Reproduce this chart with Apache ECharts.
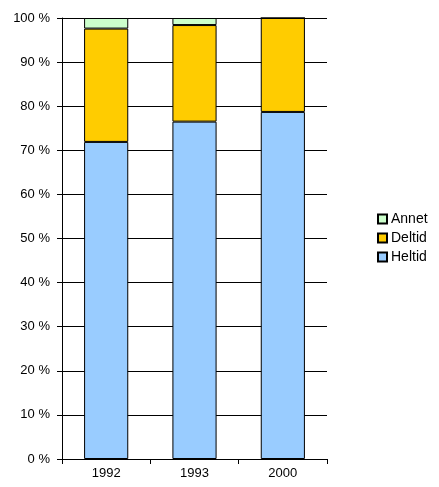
<!DOCTYPE html>
<html>
<head>
<meta charset="utf-8">
<script src="https://cdn.jsdelivr.net/npm/echarts@6/dist/echarts.min.js"></script>
<style>
html,body{margin:0;padding:0;background:#fff;}
#chart{width:439px;height:487px;}
</style>
</head>
<body>
<div id="chart"></div>
<script>
// Share of employment type per year (percent)
const years = ['1992', '1993', '2000'];
const heltid = [71.9, 76.5, 78.7];
const deltid = [25.7, 21.9, 21.3];
const annet = [2.4, 1.6, 0];
const yTicks = [0, 10, 20, 30, 40, 50, 60, 70, 80, 90, 100];

const font = 'Liberation Sans, Arial, sans-serif';
const chart = echarts.init(document.getElementById('chart'));

function bar(name, data, color) {
  return {
    name: name,
    type: 'bar',
    stack: 'total',
    data: data,
    barWidth: '50%',
    itemStyle: { color: color, borderColor: '#000', borderWidth: 1 },
    emphasis: { disabled: true }
  };
}

chart.setOption({
  animation: false,
  textStyle: { fontFamily: font },
  grid: { left: 62, right: 112, top: 18, bottom: 28 },
  legend: {
    orient: 'vertical',
    left: 372,
    top: 207,
    itemWidth: 9,
    itemHeight: 9,
    itemGap: 5,
    icon: 'rect',
    data: ['Annet', 'Deltid', 'Heltid'],
    textStyle: { fontFamily: font, fontSize: 14, color: '#000', padding: [0, 0, 0, -1] }
  },
  xAxis: {
    type: 'category',
    data: years,
    axisLine: { lineStyle: { color: '#000', width: 1 } },
    axisTick: { show: true, length: 5, lineStyle: { color: '#000' }, alignWithLabel: false },
    axisLabel: { color: '#000', fontSize: 13, margin: 8, fontFamily: font },
    splitLine: { show: false }
  },
  yAxis: {
    type: 'value',
    min: yTicks[0],
    max: yTicks[yTicks.length - 1],
    interval: 10,
    axisLine: { show: true, lineStyle: { color: '#000', width: 1 } },
    axisTick: { show: true, length: 5, lineStyle: { color: '#000' } },
    axisLabel: { color: '#000', fontSize: 13, margin: 12, fontFamily: font, formatter: '{value} %' },
    splitLine: { show: true, lineStyle: { color: '#000', width: 1 } }
  },
  series: [
    bar('Heltid', heltid, '#99CCFF'),
    bar('Deltid', deltid, '#FFCC00'),
    bar('Annet', annet, '#CCFFCC')
  ]
});
</script>
</body>
</html>
